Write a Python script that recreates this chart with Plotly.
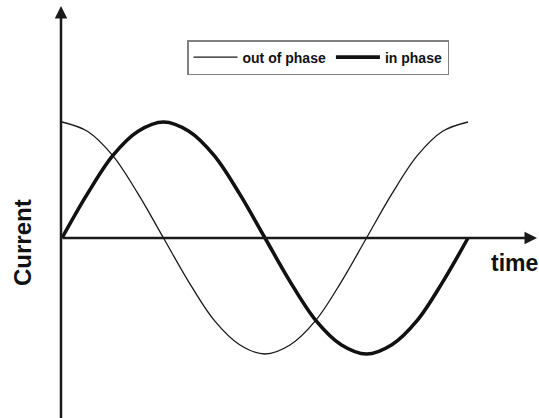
import plotly.graph_objects as go

# time in periods, sampled every 1/16 period
t = [i / 16 for i in range(17)]
out_of_phase = [1.00, 0.92, 0.71, 0.38, 0.00, -0.38, -0.71, -0.92, -1.00,
                -0.92, -0.71, -0.38, 0.00, 0.38, 0.71, 0.92, 1.00]
in_phase = [0.00, 0.38, 0.71, 0.92, 1.00, 0.92, 0.71, 0.38, 0.00,
            -0.38, -0.71, -0.92, -1.00, -0.92, -0.71, -0.38, 0.00]
series_names = ["out of phase", "in phase"]
axis_labels = ["time", "Current"]

W, H = 539, 418
px_per_x = 406.0
px_per_y = 116.0
x0 = -62.0 / px_per_x
x1 = x0 + W / px_per_x
y1 = 238.0 / px_per_y
y0 = y1 - H / px_per_y

FONT = "Liberation Sans, Arial, sans-serif"

fig = go.Figure()
fig.add_trace(go.Scatter(x=t, y=out_of_phase, mode="lines", name="<b>" + series_names[0] + "</b>",
                         line=dict(color="#1a1a1a", width=1.3, shape="spline")))
fig.add_trace(go.Scatter(x=t, y=in_phase, mode="lines", name="<b>" + series_names[1] + "</b>",
                         line=dict(color="#111111", width=3.6, shape="spline")))

def px2x(p):
    return x0 + p / px_per_x

def py2y(p):
    return y1 - p / px_per_y

# axes lines with arrows
fig.add_annotation(x=px2x(61), y=py2y(6), ax=px2x(61), ay=py2y(420), xref="x", yref="y",
                   axref="x", ayref="y", showarrow=True, arrowhead=2, arrowsize=1.0,
                   arrowwidth=2.5, arrowcolor="#1a1a1a", text="")
fig.add_annotation(x=px2x(537), y=0, ax=px2x(61), ay=0, xref="x", yref="y",
                   axref="x", ayref="y", showarrow=True, arrowhead=2, arrowsize=1.0,
                   arrowwidth=2.5, arrowcolor="#1a1a1a", text="")

fig.add_annotation(x=px2x(514), y=py2y(263), xref="x", yref="y", text="<b>" + axis_labels[0] + "</b>",
                   showarrow=False, font=dict(family=FONT, size=23, color="#111"))
fig.add_annotation(x=px2x(22), y=py2y(243), xref="x", yref="y", text="<b>" + axis_labels[1] + "</b>",
                   textangle=-90, showarrow=False,
                   font=dict(family=FONT, size=24, color="#111"))

fig.update_xaxes(range=[x0, x1], visible=False, fixedrange=True)
fig.update_yaxes(range=[y0, y1], visible=False, fixedrange=True)
fig.update_layout(
    width=W, height=H, margin=dict(l=0, r=0, t=0, b=0),
    paper_bgcolor="white", plot_bgcolor="white",
    legend=dict(orientation="h", x=187 / W, y=1 - 40 / H, xanchor="left", yanchor="top",
                bordercolor="#808080", borderwidth=1.5, bgcolor="white",
                font=dict(family=FONT, size=14, color="#111"),
                itemwidth=44),
    showlegend=True,
)
fig.write_html("out.html", post_script="document.body.style.margin='0';",
               config={"displayModeBar": False, "staticPlot": True})
